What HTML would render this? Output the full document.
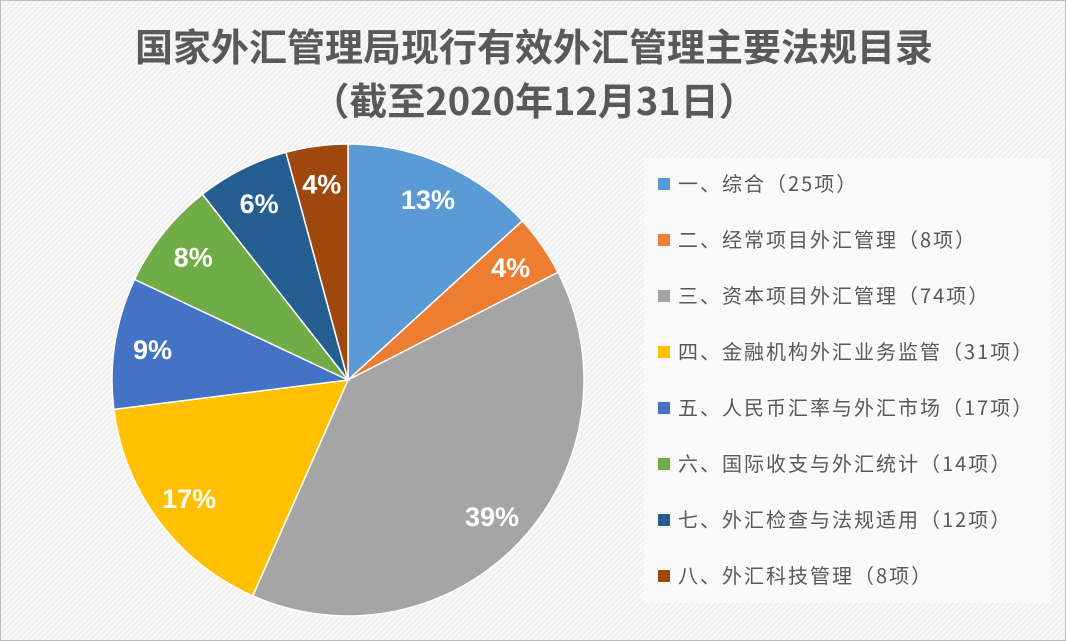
<!DOCTYPE html>
<html><head><meta charset="utf-8"><style>
html,body{margin:0;padding:0}
body{width:1066px;height:641px;overflow:hidden;font-family:"Liberation Sans","Noto Sans CJK SC",sans-serif}
#chart{position:absolute;left:0;top:0;width:1064px;height:639px;border:1px solid #bfbfbf;
background:repeating-linear-gradient(135deg,#f9f9f9 0 2px,#f0f0f0 2px 4px)}
.title{position:absolute;left:0;width:1066px;text-align:center;color:#595959;font-size:38px;font-weight:bold;font-family:"Noto Sans CJK SC","Liberation Sans",sans-serif;line-height:44px}
#legend{position:absolute;left:643px;top:157px;width:407px;height:445px;background:#fafafa}
.li{position:absolute;left:14px;height:26px;font-size:20px;letter-spacing:2px;color:#595959;line-height:26px;white-space:nowrap;font-family:"Noto Sans CJK SC","Liberation Sans",sans-serif}
.li i{display:inline-block;width:12px;height:12px;margin-right:8px;vertical-align:1px}
</style></head><body>
<div id="chart">
<div class="title" style="top:22px">国家外汇管理局现行有效外汇管理主要法规目录</div>
<div class="title" style="top:76px">（截至2020年12月31日）</div>
<svg id="pie" width="1066" height="641" style="position:absolute;left:0;top:0"></svg>
<div id="legend"></div>
</div>
<script>
const categories=["一、综合","二、经常项目外汇管理","三、资本项目外汇管理","四、金融机构外汇业务监管","五、人民币汇率与外汇市场","六、国际收支与外汇统计","七、外汇检查与法规适用","八、外汇科技管理"];
const counts=[25,8,74,31,17,14,12,8];
const colors=["#5b9bd5","#ed7d31","#a5a5a5","#ffc000","#4472c4","#70ad47","#255e91","#9e480e"];
const cx=347,cy=379,R=236,LR=198;
const total=counts.reduce((a,b)=>a+b,0);
const raw=counts.map(v=>v/total*100);
const pct=raw.map(Math.floor);
let rem=100-pct.reduce((a,b)=>a+b,0);
raw.map((v,i)=>[v-Math.floor(v),i]).sort((a,b)=>b[0]-a[0]).slice(0,rem).forEach(([_,i])=>pct[i]++);
const svg=document.getElementById('pie');
const NS="http://www.w3.org/2000/svg";
let a0=0;
function pt(a,r){return [cx+r*Math.sin(a),cy-r*Math.cos(a)];}
counts.forEach((v,i)=>{
  const a1=a0+v/total*2*Math.PI;
  const [x0,y0]=pt(a0,R),[x1,y1]=pt(a1,R);
  const p=document.createElementNS(NS,'path');
  p.setAttribute('d',`M${cx},${cy}L${x0},${y0}A${R},${R} 0 ${a1-a0>Math.PI?1:0} 1 ${x1},${y1}Z`);
  p.setAttribute('fill',colors[i]);p.setAttribute('stroke','#fff');p.setAttribute('stroke-width','1.5');
  
  
  svg.appendChild(p);
  const [lx,ly]=pt((a0+a1)/2,LR);
  const t=document.createElementNS(NS,'text');
  t.setAttribute('x',lx);t.setAttribute('y',ly+10);t.setAttribute('text-anchor','middle');
  t.setAttribute('fill','#fff');t.setAttribute('font-size','27');t.setAttribute('font-weight','bold');
  t.setAttribute('font-family','"Liberation Sans",sans-serif');
  t.textContent=pct[i]+'%';
  
  
  svg.appendChild(t);
  a0=a1;
});
const lg=document.getElementById('legend');
categories.forEach((c,i)=>{
  const d=document.createElement('div');
  d.className='li';d.style.top=(12+i*56)+'px';
  d.innerHTML=`<i style="background:${colors[i]}"></i>${c}（${counts[i]}项）`;
  
  
  lg.appendChild(d);
});
</script>
</body></html>
